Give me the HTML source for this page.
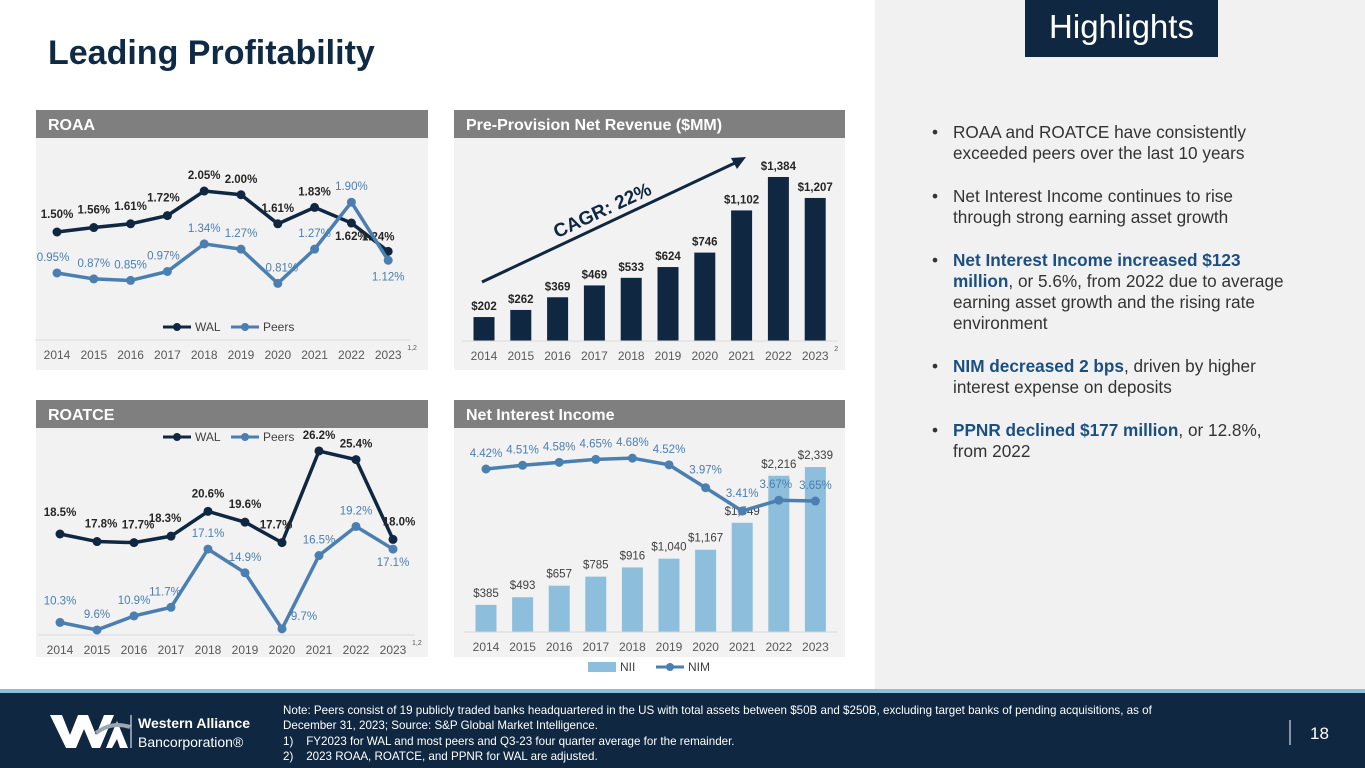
<!DOCTYPE html>
<html><head><meta charset="utf-8"><style>
body{margin:0;width:1365px;height:768px;overflow:hidden;background:#fff;font-family:"Liberation Sans",sans-serif;position:relative}
.abs{position:absolute}
#right{left:875px;top:0;width:490px;height:690px;background:#f1f1f1}
#hl{left:1025px;top:0;width:193px;height:57px;background:#0f2740;color:#fff;font-size:33px;text-align:center;line-height:54px}
#title{left:48px;top:34px;font-size:34px;font-weight:bold;color:#0f2a45}
ul{position:absolute;left:932px;top:122px;margin:0;padding:0;list-style:none;width:420px}
li{position:relative;padding-left:21px;font-size:17.2px;line-height:21px;color:#333;margin-bottom:22px;white-space:nowrap}
li:before{content:"•";position:absolute;left:0;top:0}
li b{color:#1b4f82}
#foot{left:0;top:693px;width:1365px;height:75px;background:#0f2740}
#strip{left:0;top:689px;width:1365px;height:4px;background:#8dbfdc}
#note{left:283px;top:703px;font-size:11.6px;line-height:15.3px;color:#fff;width:930px}
</style></head><body>
<div class="abs" id="right"></div>
<div class="abs" id="hl">Highlights</div>
<div class="abs" id="title">Leading Profitability</div>
<ul>
<li>ROAA and ROATCE have consistently<br>exceeded peers over the last 10 years</li>
<li>Net Interest Income continues to rise<br>through strong earning asset growth</li>
<li><b>Net Interest Income increased $123<br>million</b>, or 5.6%, from 2022 due to average<br>earning asset growth and the rising rate<br>environment</li>
<li><b>NIM decreased 2 bps</b>, driven by higher<br>interest expense on deposits</li>
<li><b>PPNR declined $177 million</b>, or 12.8%,<br>from 2022</li>
</ul>
<div class="abs" id="strip"></div>
<div class="abs" id="foot">
<svg width="1365" height="75" style="position:absolute;left:0;top:0">
<g>
<polygon points="50,22 62,22 70,42 78,22 88,22 96,42 104,22 114,22 100,55 92,55 84,36 76,55 66,55" fill="#fff"/>
<polygon points="106,55 117,28 128,55 120,55 117,46 112,55" fill="#fff"/>
<path d="M96,40 Q112,28 130,34" stroke="#9aa7b4" stroke-width="4" fill="none"/>
<line x1="131" y1="22" x2="131" y2="55" stroke="#fff" stroke-width="1"/>
<text x="138" y="35" fill="#fff" font-size="14" font-weight="bold">Western Alliance</text>
<text x="138" y="54" fill="#fff" font-size="14">Bancorporation®</text>
</g>
<line x1="1290" y1="27" x2="1290" y2="52" stroke="#fff" stroke-width="1"/>
<text x="1310" y="46" fill="#fff" font-size="17">18</text>
</svg>
</div>
<div class="abs" id="note">Note: Peers consist of 19 publicly traded banks headquartered in the US with total assets between $50B and $250B, excluding target banks of pending acquisitions, as of<br>December 31, 2023; Source: S&amp;P Global Market Intelligence.<br>1)&nbsp;&nbsp;&nbsp; FY2023 for WAL and most peers and Q3-23 four quarter average for the remainder.<br>2)&nbsp;&nbsp;&nbsp; 2023 ROAA, ROATCE, and PPNR for WAL are adjusted.</div>
<svg id="ch" width="1365" height="690" style="position:absolute;left:0;top:0" font-family="Liberation Sans, sans-serif"></svg>
<script>
const years=["2014","2015","2016","2017","2018","2019","2020","2021","2022","2023"];
const roaaWal=[1.50,1.56,1.61,1.72,2.05,2.00,1.61,1.83,1.62,1.24];
const roaaPeers=[0.95,0.87,0.85,0.97,1.34,1.27,0.81,1.27,1.90,1.12];
const roatceWal=[18.5,17.8,17.7,18.3,20.6,19.6,17.7,26.2,25.4,18.0];
const roatcePeers=[10.3,9.6,10.9,11.7,17.1,14.9,9.7,16.5,19.2,17.1];
const ppnr=[202,262,369,469,533,624,746,1102,1384,1207];
const nii=[385,493,657,785,916,1040,1167,1549,2216,2339];
const nim=[4.42,4.51,4.58,4.65,4.68,4.52,3.97,3.41,3.67,3.65];
const S=document.getElementById('ch');const NS='http://www.w3.org/2000/svg';
function el(t,a,txt){const e=document.createElementNS(NS,t);for(const k in a)e.setAttribute(k,a[k]);if(txt!==undefined)e.textContent=txt;S.appendChild(e);return e;}
const NAVY='#0f2740',BLUE='#4a7fb0',LB='#8dbfdc';
function panel(x,y,w,h,title,name){
 let r=el('rect',{x:x,y:y+28,width:w,height:h-28,fill:'#f2f2f2'});
 
 let hd=el('rect',{x:x,y:y,width:w,height:28,fill:'#7f7f7f'});
 
 let t=el('text',{x:x+12,y:y+20,fill:'#fff','font-size':16,'font-weight':'bold'},title);
 
}
function xaxis(x0,step,axisY,name,sup){
 let l=el('line',{x1:x0-22,x2:x0+step*9+22,y1:axisY,y2:axisY,stroke:'#d9d9d9'});
 
 years.forEach((yr,i)=>{let t=el('text',{x:x0+i*step,y:axisY+19,'text-anchor':'middle','font-size':12,fill:'#595959'},yr);
 });
 if(sup){let t=el('text',{x:x0+9*step+19,y:axisY+10,'font-size':7,fill:'#595959'},sup);}
}
function line(vals,xf,yf,color,name,fmt,lblOff){
 el('polyline',{points:vals.map((v,i)=>xf(i)+','+yf(v)).join(' '),fill:'none',stroke:color,'stroke-width':3.5});
 vals.forEach((v,i)=>{let c=el('circle',{cx:xf(i),cy:yf(v),r:4.5,fill:color});
 
 let t=el('text',{x:xf(i)+(lblOff[i]?lblOff[i][0]:0),y:yf(v)+(lblOff[i]?lblOff[i][1]:-12),'text-anchor':'middle','font-size':11.5,fill:color==NAVY?'#262626':BLUE,'font-weight':color==NAVY?'bold':'normal'},fmt(v));
 });
}
function legend(x,y,items){items.forEach(([lab,color,type],k)=>{const xx=x+k*68;
 if(type=='bar')el('rect',{x:xx,y:y-5,width:28,height:10,fill:color});else{el('line',{x1:xx,x2:xx+28,y1:y,y2:y,stroke:color,'stroke-width':3});el('circle',{cx:xx+14,cy:y,r:4,fill:color});}
 let t=el('text',{x:xx+32,y:y+4,'font-size':12,fill:'#404040'},lab);});}
// ROAA
panel(36,110,392,260,'ROAA','roaa');
{const xf=i=>57+i*36.8,yf=v=>232-(v-1.5)*74.5;
xaxis(57,36.8,340,'roaa','1,2');
line(roaaWal,xf,yf,NAVY,'roaa-wal',v=>v.toFixed(2)+'%',{0:[0,-14],1:[0,-14],2:[0,-14],3:[-4,-14],8:[0,17],9:[-10,-11]});
line(roaaPeers,xf,yf,BLUE,'roaa-peers',v=>v.toFixed(2)+'%',{0:[-4,-12],3:[-4,-12],6:[4,-12],7:[0,-12],9:[0,20]});
legend(163,327,[['WAL',NAVY,'l'],['Peers',BLUE,'l']]);}
// ROATCE
panel(36,400,392,257,'ROATCE','roatce');
{const xf=i=>60+i*37,yf=v=>534-(v-18.5)*10.78;
xaxis(60,37,635,'roatce','1,2');
line(roatceWal,xf,yf,NAVY,'roatce-wal',v=>v.toFixed(1)+'%',{0:[0,-18],1:[4,-14],2:[4,-14],3:[-6,-14],4:[0,-14],5:[0,-14],6:[-6,-14],7:[0,-12],8:[0,-12],9:[6,-14]});
line(roatcePeers,xf,yf,BLUE,'roatce-peers',v=>v.toFixed(1)+'%',{0:[0,-18],1:[0,-12],2:[0,-12],3:[-6,-12],4:[0,-12],5:[0,-12],6:[22,-9],7:[0,-12],8:[0,-12],9:[0,17]});
legend(163,437,[['WAL',NAVY,'l'],['Peers',BLUE,'l']]);}
// PPNR
panel(454,110,391,260,'Pre-Provision Net Revenue ($MM)','ppnr');
{const xf=i=>484+i*36.8,yf=v=>341-v*0.1185;
ppnr.forEach((v,i)=>{let r=el('rect',{x:xf(i)-10.5,y:yf(v),width:21,height:341-yf(v),fill:NAVY});
let t=el('text',{x:xf(i),y:yf(v)-7,'text-anchor':'middle','font-size':11.5,'font-weight':'bold',fill:'#262626'},'$'+v.toLocaleString('en-US'));});
xaxis(484,36.8,341,'ppnr','2');
el('line',{x1:482,y1:282,x2:737,y2:162,stroke:NAVY,'stroke-width':3});
el('polygon',{points:'746,157 731,158 737,169',fill:NAVY});
let c=el('text',{x:605,y:216,'font-size':19,'font-weight':'bold',fill:NAVY,transform:'rotate(-25 605 216)','text-anchor':'middle'},'CAGR: 22%');}
// NII
panel(454,400,391,257,'Net Interest Income','nii');
{const xf=i=>486+i*36.6,yb=v=>632-v*0.0705,yn=v=>469-(v-4.42)*41.6;
nii.forEach((v,i)=>{let r=el('rect',{x:xf(i)-10.5,y:yb(v),width:21,height:632-yb(v),fill:LB});
let t=el('text',{x:xf(i),y:yb(v)-8,'text-anchor':'middle','font-size':11.5,fill:'#404040'},'$'+v.toLocaleString('en-US'));});
xaxis(486,36.6,632,'nii');
line(nim,xf,yn,BLUE,'nim',v=>v.toFixed(2)+'%',{6:[0,-14],7:[0,-14],8:[-3,-12],9:[0,-12]});
legend(588,667,[['NII',LB,'bar'],['NIM',BLUE,'l']]);}
</script>
</body></html>
